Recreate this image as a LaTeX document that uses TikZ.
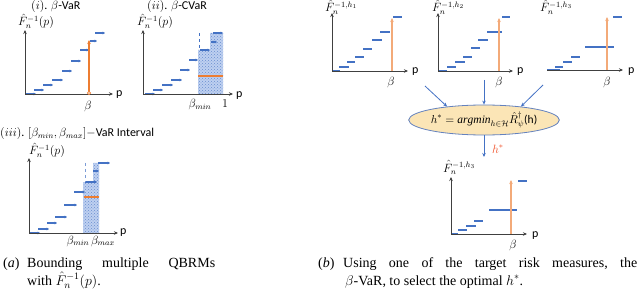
\RequirePackage{fix-cm}
\documentclass[tikz,border=0pt]{standalone}
\usepackage{fontspec}
\setmainfont{Liberation Serif}
\newfontfamily\calibri{Carlito}
\usetikzlibrary{arrows.meta,shapes.geometric,patterns}
\definecolor{stepblue}{RGB}{68,114,196}
\definecolor{vorange}{RGB}{237,125,49}
\definecolor{axisgray}{RGB}{64,64,64}
\definecolor{shadeblue}{RGB}{190,208,240}
\definecolor{ellfill}{RGB}{251,229,182}
\definecolor{ellline}{RGB}{100,130,190}
\definecolor{hred}{RGB}{240,80,40}
\tikzset{
 axisline/.style={draw=axisgray, line width=0.9pt, -{Stealth[length=4pt,width=3.5pt]}},
 stepline/.style={draw=stepblue, line width=1.1pt, -{Stealth[length=2.4pt,width=2.8pt]}},
 flatstep/.style={draw=stepblue, line width=1.2pt},
 varline/.style={draw=vorange, line width=1.3pt, -{Stealth[length=4pt,width=3.5pt]}},
 varlineb/.style={draw=vorange!65, line width=1.5pt, -{Stealth[length=4pt,width=3.5pt]}},
 dotregion/.style={fill=shadeblue, postaction={pattern=crosshatch dots, pattern color=stepblue!80}},
 lbl/.style={font=\calibri\fontsize{12}{14}\selectfont, inner sep=0pt},
 captext/.style={font=\fontsize{14}{17}\selectfont, inner sep=0pt, anchor=base west},
 flowarrow/.style={draw=stepblue, line width=0.8pt, -{Stealth[length=4pt,width=3.5pt]}},
}
\begin{document}
\begin{tikzpicture}[x=1pt,y=-1pt]
\useasboundingbox (0,0) rectangle (640,302);

% ---------- (i) beta-VaR ----------
\node[lbl, anchor=base west] (ti) at (31,10) {$(i)$. $\beta$-VaR};
\node[lbl, anchor=base west] (fi) at (18,26) {$\hat{F}_n^{-1}(p)$};
\foreach \y/\a/\b in {94/25/36, 90/34/44, 85/43/53, 80/52/63, 71/62/72, 61/71/81, 50/80/89, 41/90/97, 33/95/105}
  \draw[stepline] (\a,\y) -- (\b,\y);
\draw[axisline] (25,94) -- (25,30);
\draw[axisline] (25,94) -- (113,94);
\node[lbl, anchor=west] (pi) at (116,95) {p};
\draw[varline] (89,93) -- (89,40);
\draw[vorange, fill=white, line width=0.7pt] (89,93) circle (1.6);
\node[lbl] (bi) at (88,107) {$\beta$};

% ---------- (ii) beta-CVaR ----------
\node[lbl, anchor=base west] (tii) at (147,10) {$(ii)$. $\beta$-CVaR};
\node[lbl, anchor=base west] (fii) at (137,26) {$\hat{F}_n^{-1}(p)$};
\path[dotregion] (198,94) -- (198,50) -- (210,50) -- (210,33) -- (223,33) -- (223,94) -- cycle;
\foreach \y/\a/\b in {94/145/155, 90/153/163, 85/162/173, 80/171/182, 70/180/190, 60/189/198, 50/200/210, 42/211/217, 33/213/223}
  \draw[stepline] (\a,\y) -- (\b,\y);
\draw[stepblue, line width=0.9pt, dashed] (199,33) -- (199,50);
\draw[vorange, line width=1.2pt] (198,76) -- (223,76);
\draw[vorange!60, line width=0.8pt] (145,94) -- (198,94);
\draw[axisline] (143,94) -- (143,30);
\draw[axisline] (143,94) -- (233,94);
\node[lbl, anchor=west] (pii) at (236,96) {p};
\node[lbl] (bii) at (200,105) {$\beta_{min}$};
\node[lbl] (oneii) at (225,104) {$1$};

% ---------- (iii) interval ----------
\node[lbl, anchor=base west] (tiii) at (0,137) {$(iii)$. $[\beta_{min},\beta_{max}]$$-$VaR Interval};
\node[lbl, anchor=base west] (fiii) at (29,155) {$\hat{F}_n^{-1}(p)$};
\path[dotregion] (83,233) -- (83,182) -- (93,182) -- (93,163) -- (99,163) -- (99,233) -- cycle;
\foreach \y/\a/\b in {233/29/40, 229/38/49, 223/47/57, 217/55/67, 205/64/77, 192/74/85, 182/85/97, 171/93/99, 163/98/110}
  \draw[stepline] (\a,\y) -- (\b,\y);
\draw[stepblue!70, line width=0.9pt, dashed] (85,163) -- (85,182);
\draw[vorange, line width=1.2pt] (84,197) -- (99,197);
\draw[vorange!70, line width=0.9pt] (30,233) -- (60,233);
\draw[axisline] (29,233) -- (29,158);
\draw[axisline] (29,233) -- (118,233);
\node[lbl, anchor=west] (piii) at (120,233) {p};
\node[lbl] (b1iii) at (78,241) {$\beta_{min}$};
\node[lbl] (b2iii) at (103,241) {$\beta_{max}$};

% ---------- (b) graph 1 ----------
\node[lbl, anchor=base west] (f1) at (325,12) {$\hat{F}_n^{-1,h_1}$};
\foreach \y/\a/\b in {71/332/340, 67/339/349, 62/347/355, 57/355/364, 49/363/372, 40/372/382, 32/380/390, 17/393/402}
  \draw[flatstep] (\a,\y) -- (\b,\y);
\draw[varlineb] (392,71) -- (392,18);
\draw[axisline] (332,71) -- (332,13);
\draw[axisline] (332,71) -- (408,71);
\node[lbl, anchor=west] (p1) at (412,72) {p};
\node[lbl] (b1) at (391,83) {$\beta$};

% ---------- (b) graph 2 ----------
\node[lbl, anchor=base west] (f2) at (432,12) {$\hat{F}_n^{-1,h_2}$};
\foreach \y/\a/\b in {71/438/447, 67/447/456, 62/455/465, 57/463/472, 48/471/480, 40/478/488, 32/487/502, 17/502/510}
  \draw[flatstep] (\a,\y) -- (\b,\y);
\draw[varlineb] (499,71) -- (499,18);
\draw[axisline] (438,71) -- (438,13);
\draw[axisline] (438,71) -- (513,71);
\node[lbl, anchor=west] (p2) at (517,72) {p};
\node[lbl] (b2) at (499,83) {$\beta$};

% ---------- (b) graph 3 ----------
\node[lbl, anchor=base west] (f3) at (540,12) {$\hat{F}_n^{-1,h_3}$};
\foreach \y/\a/\b in {70/547/560, 67/555/563, 62/563/572, 57/571/580, 47/585/614, 17/613/622}
  \draw[flatstep] (\a,\y) -- (\b,\y);
\draw[varlineb] (607,70) -- (607,17);
\draw[axisline] (547,70) -- (623,70);
\node[lbl, anchor=west] (p3) at (628,72) {p};
\node[lbl] (b3) at (607,83) {$\beta$};

% ---------- selection ellipse ----------
\node[ellipse, draw=ellline, fill=ellfill, line width=0.8pt, minimum width=118pt, minimum height=30pt, inner sep=0pt,
      font=\calibri\fontsize{11.5}{13}\selectfont] (ell) at (484,120)
  {$h^{*} = \mathit{argmin}_{h\in\mathcal{H}}\hat{R}^{\dagger}_{\psi}$(h)};
\coordinate (s1) at (425,86);
\coordinate (s2) at (484,80);
\coordinate (s3) at (543,85);
\draw[flowarrow] (s1) -- (ell.160);
\draw[flowarrow] (s2) -- (ell.north);
\draw[flowarrow] (s3) -- (ell.20);
\coordinate (d) at (484,157);
\draw[flowarrow] (ell.south) -- (d);
\node[lbl, text=hred, anchor=west] (hs) at (492,149) {$h^{*}$};

% ---------- (b) bottom graph ----------
\node[lbl, anchor=base west] (f4) at (443,172) {$\hat{F}_n^{-1,h_3}$};
\foreach \y/\a/\b in {234/451/458, 230/458/467, 226/466/476, 221/474/483, 210/489/517, 181/518/527}
  \draw[flatstep] (\a,\y) -- (\b,\y);
\draw[varlineb] (511,234) -- (511,180);
\draw[axisline] (451,234) -- (451,177);
\draw[axisline] (451,234) -- (527,234);
\node[lbl, anchor=west] (p4) at (532,236) {p};
\node[lbl] (b4) at (513,245) {$\beta$};

% ---------- captions ----------
\node[captext] (ca1) at (3,267) {(\textit{a})};
\node[captext] (ca2) at (27,267) {\makebox[188pt][l]{Bounding\hfill multiple\hfill QBRMs}};
\node[captext] (ca3) at (27,285) {with $\hat{F}_n^{-1}(p)$.};
\node[captext] (cb1) at (318,267) {(\textit{b})};
\node[captext] (cb2) at (343,267) {\makebox[294pt][l]{Using\hfill one\hfill of\hfill the\hfill target\hfill risk\hfill measures,\hfill the}};
\node[captext] (cb3) at (345,285) {$\beta$-VaR, to select the optimal $h^{*}$.};
\end{tikzpicture}
\end{document}
